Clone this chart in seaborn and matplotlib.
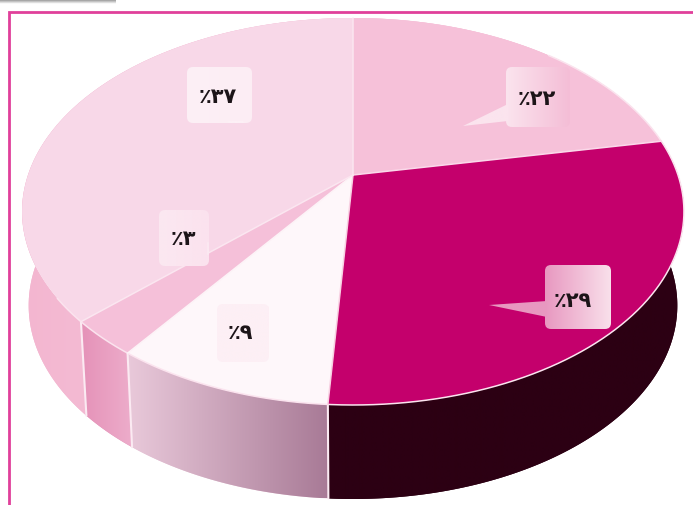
import numpy as np
import matplotlib
matplotlib.use("Agg")
import matplotlib.pyplot as plt
from matplotlib.colors import to_rgb
from matplotlib.patches import FancyBboxPatch, Polygon, PathPatch
from matplotlib.path import Path
import seaborn as sns

# ---- data (clockwise from the top of the pie) ----
values = [22, 29, 9, 3, 37]
labels = ["٪۲۲", "٪۲۹", "٪۹", "٪۳", "٪۳۷"]

# ---- styles ----
top_colors = ["#f6c1d9", "#c4006c", "#fef7fa", "#f5c0d9", "#f8d8e8"]
side_left = ["#f6c1d9", "#2c0013", "#e9c9da", "#e592b8", "#f3b6d0"]
side_right = ["#f6c1d9", "#2c0013", "#a87a96", "#edadcb", "#f8cde0"]
radial_colors = ["#fbe6f0", "#fbd9ea", "#f8d0e2", "#fdf3f7", "#fbe6f0"]
divider_colors = [None, None, "#fbeaf2", "#fbeaf2", "#fbeaf2"]

# callouts: box x0, y0, x1, y1, tail base a, tail base b, tail tip, gradient colours, text centre
callouts = [
    dict(box=(506, 68, 570, 128), tail=[(508, 105), (508, 122), (463, 127)],
         c=("#fbe4ee", "#f4bdd6"), t=(537, 99)),
    dict(box=(545, 266, 611, 330), tail=[(547, 302), (547, 318), (489, 306)],
         c=("#e898c0", "#f9e0eb"), t=(573, 301)),
    dict(box=(217, 305, 269, 363), tail=[(267, 308), (267, 328), (302, 301)],
         c=("#fdeff5", "#fdf0f5"), t=(240, 333)),
    dict(box=(159, 211, 209, 267), tail=[(207, 243), (207, 256), (248, 248)],
         c=("#fbe8f1", "#fbe2ee"), t=(183, 239)),
    dict(box=(187, 68, 252, 124), tail=[(226, 122), (243, 122), (281, 165)],
         c=("#fdf0f6", "#fcedf4"), t=(218, 97)),
]

# perspective of the pie disc, in pixels of the output image
CX, CY, TOP, BOTTOM, KX = 353.0, 176.0, 19.0, 406.0, 325.0
DEPTH, LOWER_SCALE = 94.0, 0.98
PC = (2 * CY - TOP - BOTTOM) / (BOTTOM - TOP)
PC = (TOP + BOTTOM - 2 * CY) / (BOTTOM - TOP)
PA = TOP * (1 + PC) - CY


def project(frac):
    th = 2 * np.pi * np.asarray(frac, dtype=float)
    u, v = np.sin(th), np.cos(th)
    w = 1 + PC * v
    return CX + KX * u / w, (PA * v + CY) / w


def lower(x, y):
    return CX + (np.asarray(x) - CX) * LOWER_SCALE, np.asarray(y) + DEPTH


def gradient(ax, patch_or_path, c0, c1, x0, x1, y0, y1, zorder):
    a, b = np.array(to_rgb(c0)), np.array(to_rgb(c1))
    t = np.linspace(0, 1, 256)[None, :, None]
    img = a[None, None, :] * (1 - t) + b[None, None, :] * t
    im = ax.imshow(img, extent=(x0, x1, y1, y0), aspect="auto",
                   zorder=zorder, interpolation="bilinear")
    patch_or_path.set_transform(ax.transData)
    im.set_clip_path(patch_or_path)


sns.set_theme(style="white")
plt.rcParams["font.family"] = ["DejaVu Sans"]

fig = plt.figure(figsize=(6.93, 5.06), dpi=100, facecolor="white")
ax = fig.add_axes([0, 0, 1, 1])
ax.set_axis_off()

# header shadow in the top-left corner
sh = np.ones((8, 2, 4))
sh[..., :3] = 0.45
sh[..., 3] = np.linspace(0.85, 0, 8)[:, None]
ax.imshow(sh, extent=(0, 116, 5, 0), aspect="auto", zorder=1)
# frame
ax.plot([9, 9, 693], [506, 13, 13], color="#e0409a", lw=2.0, zorder=2,
        solid_joinstyle="miter")

fr = np.concatenate([[0], np.cumsum(values)]) / np.sum(values)

# sides
for i in [0, 4, 1, 3, 2]:
    f = np.linspace(fr[i], fr[i + 1], 200)
    xt, yt = project(f)
    xb, yb = lower(xt, yt)
    pts = np.r_[np.c_[xt, yt], np.c_[xb, yb][::-1]]
    poly = Polygon(pts, closed=True, fc=side_left[i], ec="none", zorder=3)
    ax.add_patch(poly)
    gx0, gx1 = pts[:, 0].min(), pts[:, 0].max()
    gradient(ax, Polygon(pts, closed=True), side_left[i], side_right[i],
             gx0, gx1, pts[:, 1].min(), pts[:, 1].max(), 3.1)
    # white divider on the side at the slice start
    if divider_colors[i]:
        ax.plot([xt[0], xb[0]], [yt[0], yb[0]], color=divider_colors[i], lw=1.5, zorder=4)

# top faces
for i in range(len(values)):
    f = np.linspace(fr[i], fr[i + 1], 300)
    x, y = project(f)
    ax.add_patch(Polygon(np.r_[[[CX, CY]], np.c_[x, y]], closed=True,
                         fc=top_colors[i], ec="none", zorder=5))

# rim line on the visible front edge, and radial separators
f = np.linspace(fr[1] - 0.1, fr[4] + 0.02, 500)
x, y = project(f)
ax.plot(x, y, color="#fbe3ee", lw=1.1, zorder=6)
for i in range(len(values)):
    x, y = project(fr[i])
    ax.plot([CX, x], [CY, y], color=radial_colors[i], lw=1.1, zorder=6)

# callouts
for lab, c in zip(labels, callouts):
    x0, y0, x1, y1 = c["box"]
    g0 = min(x0, c["tail"][2][0])
    r = 6
    box = FancyBboxPatch((x0 + r, y0 + r), x1 - x0 - 2 * r, y1 - y0 - 2 * r,
                         boxstyle=f"round,pad={r},rounding_size={r}")
    bpath = box.get_path()
    gradient(ax, PathPatch(bpath), c["c"][0], c["c"][1], x0, x1, y0, y1, 7)
    tail = Polygon(c["tail"], closed=True)
    gradient(ax, tail, c["c"][0], c["c"][0], g0, x1, y0, y1, 7)
    ax.text(c["t"][0], c["t"][1], lab, ha="center", va="center",
            fontsize=15, fontweight="bold", color="#1c1418", zorder=8)

ax.set_xlim(0, 693)
ax.set_ylim(506, 0)
fig.savefig("out.png", dpi=100, facecolor="white")
